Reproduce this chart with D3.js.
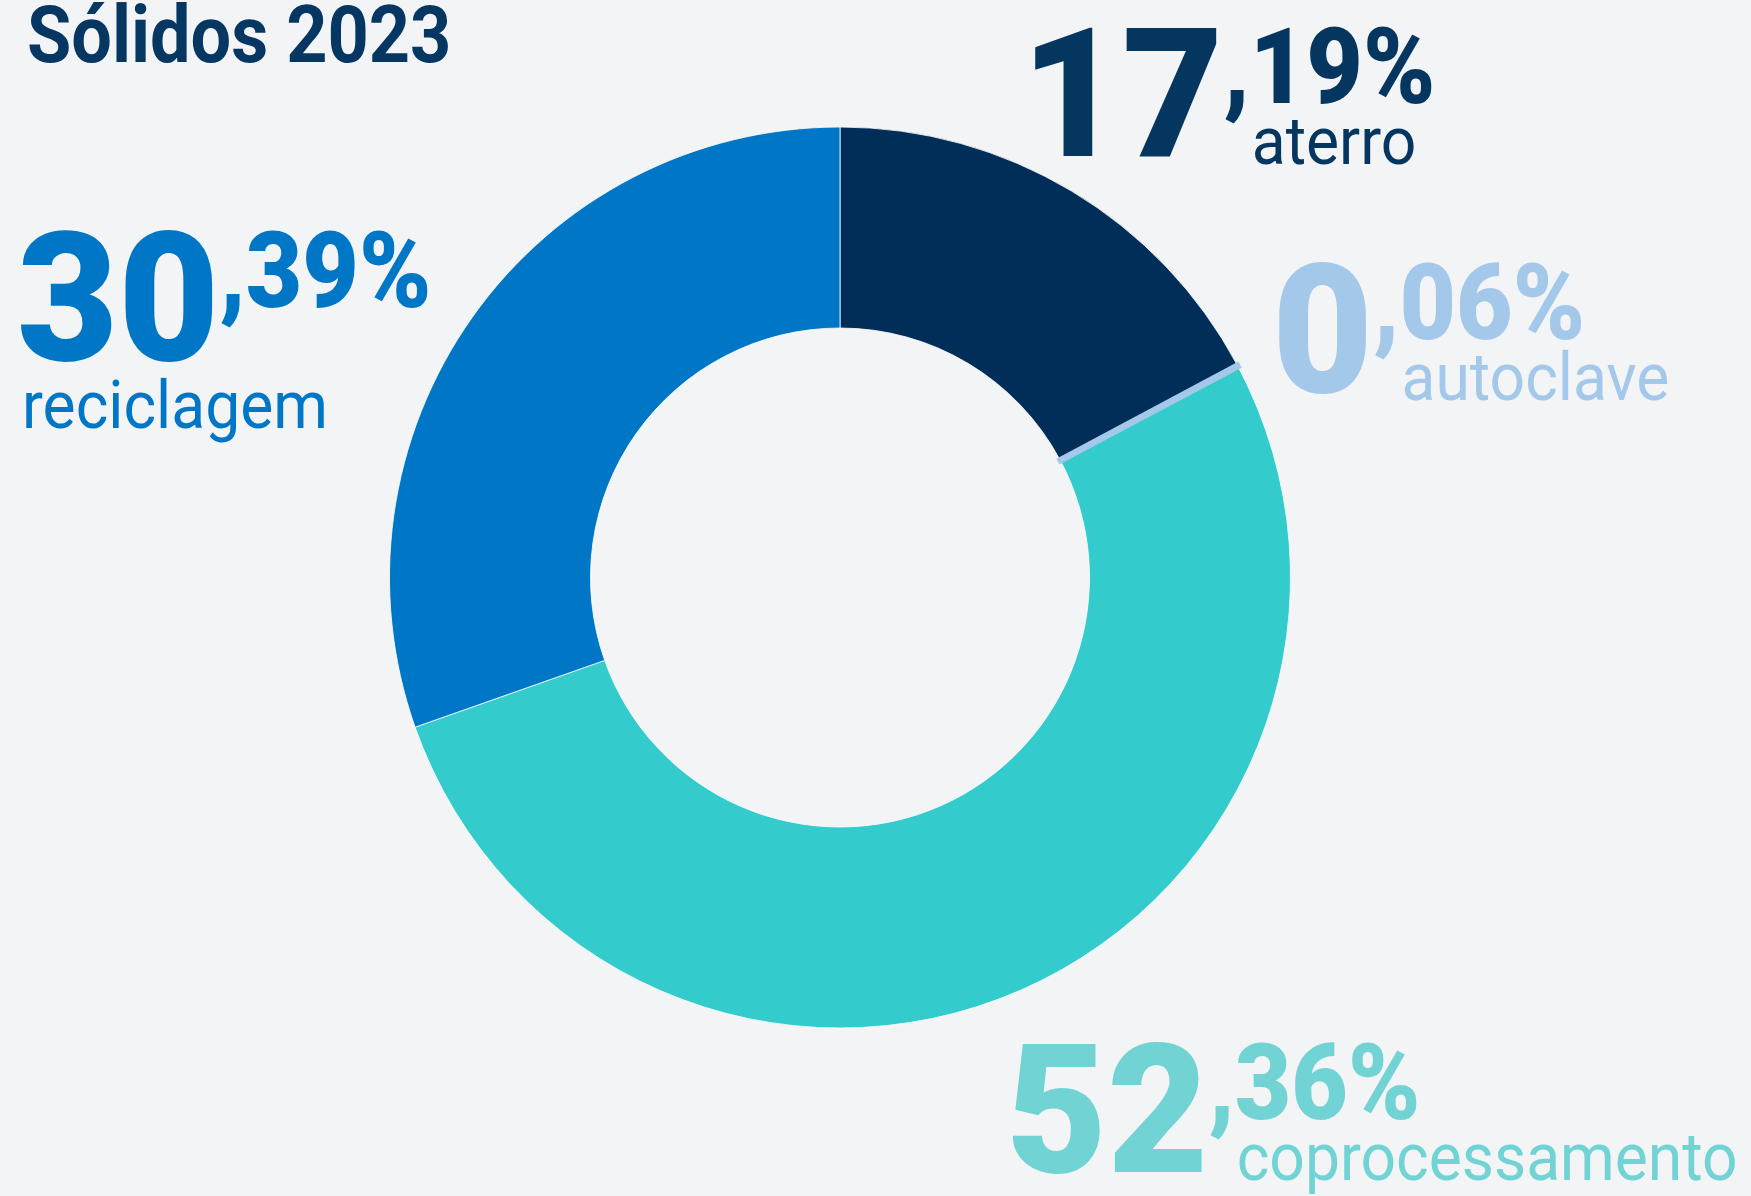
<!DOCTYPE html>
<html>
<head>
<meta charset="utf-8">
<script src="https://cdn.jsdelivr.net/npm/d3@7"></script>
<style>
  body { margin: 0; background: #f2f4f6; }
  svg { display: block; }
  text { font-family: Roboto, "Noto Sans", sans-serif; }
</style>
</head>
<body>
<svg id="svg" width="1751" height="1196"></svg>
<script>
var categories = ["aterro", "autoclave", "coprocessamento", "reciclagem"];
var values = [17.19, 0.06, 52.36, 30.39];
var sliceColors = ["#002e58", "#a3c8ea", "#33cbcb", "#0077c6"];
var textColors = ["#05365f", "#a3c8ea", "#72d3d4", "#0077c6"];
var title = "Sólidos 2023";

var svg = d3.select("#svg");

var center = { x: 840, y: 577.5 };
var radius = { inner: 249.5, outer: 450.5 };

// big number baseline + where each label goes
var labelPos = [
  { x: 1021, y: 156, below: false },
  { x: 1272, y: 392, below: false },
  { x: 1006, y: 1172, below: false },
  { x: 17, y: 360, below: true, lx: 22, ly: 428 },
];

//the original type is set a bit tighter than Roboto, squeeze it horizontally
function squeeze(sel, f) {
  var w = sel.node().getComputedTextLength() * f;
  sel.attr("textLength", w).attr("lengthAdjust", "spacingAndGlyphs");
  return w;
}

svg
  .append("rect")
  .attr("width", 1751)
  .attr("height", 1196)
  .attr("fill", "#f2f4f6");

var titleText = svg
  .append("text")
  .attr("x", 27)
  .attr("y", 62)
  .attr("fill", "#063763")
  .style("font-size", "80px")
  .style("font-weight", 700)
  .text(title);
squeeze(titleText, 0.9);

//pie keeps the order of the data, first slice starts at 12 o'clock
var pie = d3
  .pie()
  .sort(null)
  .value(function (d) {
    return d;
  });

var arc = d3.arc().innerRadius(radius.inner).outerRadius(radius.outer);

var slices = svg
  .append("g")
  .attr("transform", "translate(" + center.x + "," + center.y + ")");

slices
  .selectAll("path")
  .data(pie(values))
  .enter()
  .append("path")
  .attr("d", arc)
  .attr("fill", function (d, i) {
    return sliceColors[i];
  })
  .attr("stroke", function (d, i) {
    return i === 1 ? sliceColors[1] : "#ffffff";
  })
  .attr("stroke-width", function (d, i) {
    return i === 1 ? 5.5 : 0.8;
  });

// tiny slice on top so the light blue band is visible
slices.selectAll("path").filter(function (d, i) { return i === 1; }).raise();

var labels = svg.append("g");

categories.forEach(function (c, i) {
  var p = labelPos[i];
  var v = values[i];
  var parts = v.toFixed(2).split(".");

  var big = labels
    .append("text")
    .attr("x", p.x)
    .attr("y", p.y)
    .attr("fill", textColors[i])
    .style("font-size", "180px")
    .style("font-weight", 900)
    .text(parts[0]);
  var wBig = squeeze(big, 0.97);

  var small = labels
    .append("text")
    .attr("x", p.x + wBig)
    .attr("y", p.y - 53)
    .attr("fill", textColors[i])
    .style("font-size", "105px")
    .style("font-weight", 900)
    .text("," + parts[1] + "%");
  var wComma = small.node().getSubStringLength(0, 1) * 0.93;
  squeeze(small, 0.93);

  var label = labels
    .append("text")
    .attr("x", p.below ? p.lx : p.x + wBig + wComma + 2)
    .attr("y", p.below ? p.ly : p.y + 8)
    .attr("fill", textColors[i])
    .style("font-size", "66px")
    .style("font-weight", 400)
    .text(c);
  squeeze(label, 0.945);
});
</script>
</body>
</html>
